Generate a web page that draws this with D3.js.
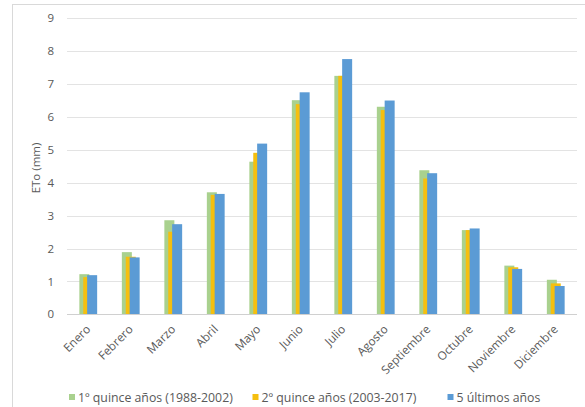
<!DOCTYPE html>
<html><head><meta charset="utf-8">
<script src="https://cdn.jsdelivr.net/npm/d3@7"></script>
<style>body{margin:0;background:#fff}svg{display:block}text{font-family:"Open Sans","Liberation Sans",sans-serif;fill:#595959}</style>
</head><body><svg id="c" width="585" height="407"></svg>
<script>
const months = ["Enero","Febrero","Marzo","Abril","Mayo","Junio","Julio","Agosto","Septiembre","Octubre","Noviembre","Diciembre"];
const seriesNames = ["1º quince años (1988-2002)","2º quince años (2003-2017)","5 últimos años"];
const serie1 = [1.22,1.89,2.86,3.71,4.64,6.51,7.25,6.31,4.38,2.56,1.48,1.05];
const serie2 = [1.13,1.75,2.51,3.63,4.91,6.39,7.25,6.21,4.13,2.56,1.43,0.94];
const serie3 = [1.19,1.73,2.74,3.66,5.19,6.75,7.76,6.50,4.29,2.61,1.38,0.86];
const yTicks = [0,1,2,3,4,5,6,7,8,9];
const colors = ["#a9d18e","#f5bf0f","#5b9bd5"];
const series = [serie1, serie2, serie3];

const svg = d3.select("#c");
svg.append("rect").attr("x",12.5).attr("y",4.5).attr("width",600).attr("height",420)
  .attr("fill","#fff").attr("stroke","#d9d9d9");

const x = d3.scaleBand().domain(months).range([67,577]);
const y = d3.scaleLinear().domain([0,9]).range([314.3,18.3]);

svg.append("g").selectAll("line").data(yTicks.slice(1)).join("line")
  .attr("x1",67).attr("x2",577).attr("y1",d=>Math.round(y(d))+0.5).attr("y2",d=>Math.round(y(d))+0.5)
  .attr("stroke","#e3e3e3");

const yAxis = d3.axisLeft(y).tickValues(yTicks).tickSize(0).tickPadding(0);
const gy = svg.append("g").attr("transform","translate(54,0)").call(yAxis);
gy.select(".domain").remove();
gy.selectAll("text").attr("font-size","11.5px").style("fill","#595959");

const bw = 10, step = 3.9;
series.forEach((s,i)=>{
  svg.append("g").selectAll("rect").data(s).join("rect")
    .attr("x",(d,j)=>x(months[j])+x.bandwidth()/2 - (2*step+bw)/2 + i*step)
    .attr("width",bw)
    .attr("y",d=>y(d)).attr("height",d=>y(0)-y(d))
    .attr("fill",colors[i]);
});

svg.append("line").attr("x1",67).attr("x2",577).attr("y1",314.5).attr("y2",314.5).attr("stroke","#d0d0d0");

const xAxis = d3.axisBottom(x).tickSize(0).tickPadding(0);
const gx = svg.append("g").attr("transform","translate(0,314)").call(xAxis);
gx.select(".domain").remove();
gx.selectAll("text").attr("font-size","11.8px").attr("text-anchor","end")
  .attr("dy",0).attr("transform","translate(3,16) rotate(-45)").style("fill","#595959");

svg.append("text").attr("transform","translate(40,168) rotate(-90)").attr("text-anchor","middle")
  .attr("font-size","11.5px").text("ETo (mm)");

const legX = [69,252.5,447.5];
const leg = svg.append("g");
seriesNames.forEach((n,i)=>{
  leg.append("rect").attr("x",legX[i]).attr("y",394).attr("width",6).attr("height",6).attr("fill",colors[i]);
  leg.append("text").attr("x",legX[i]+9).attr("y",401.5).attr("font-size","12.3px").text(n);
});
</script></body></html>
